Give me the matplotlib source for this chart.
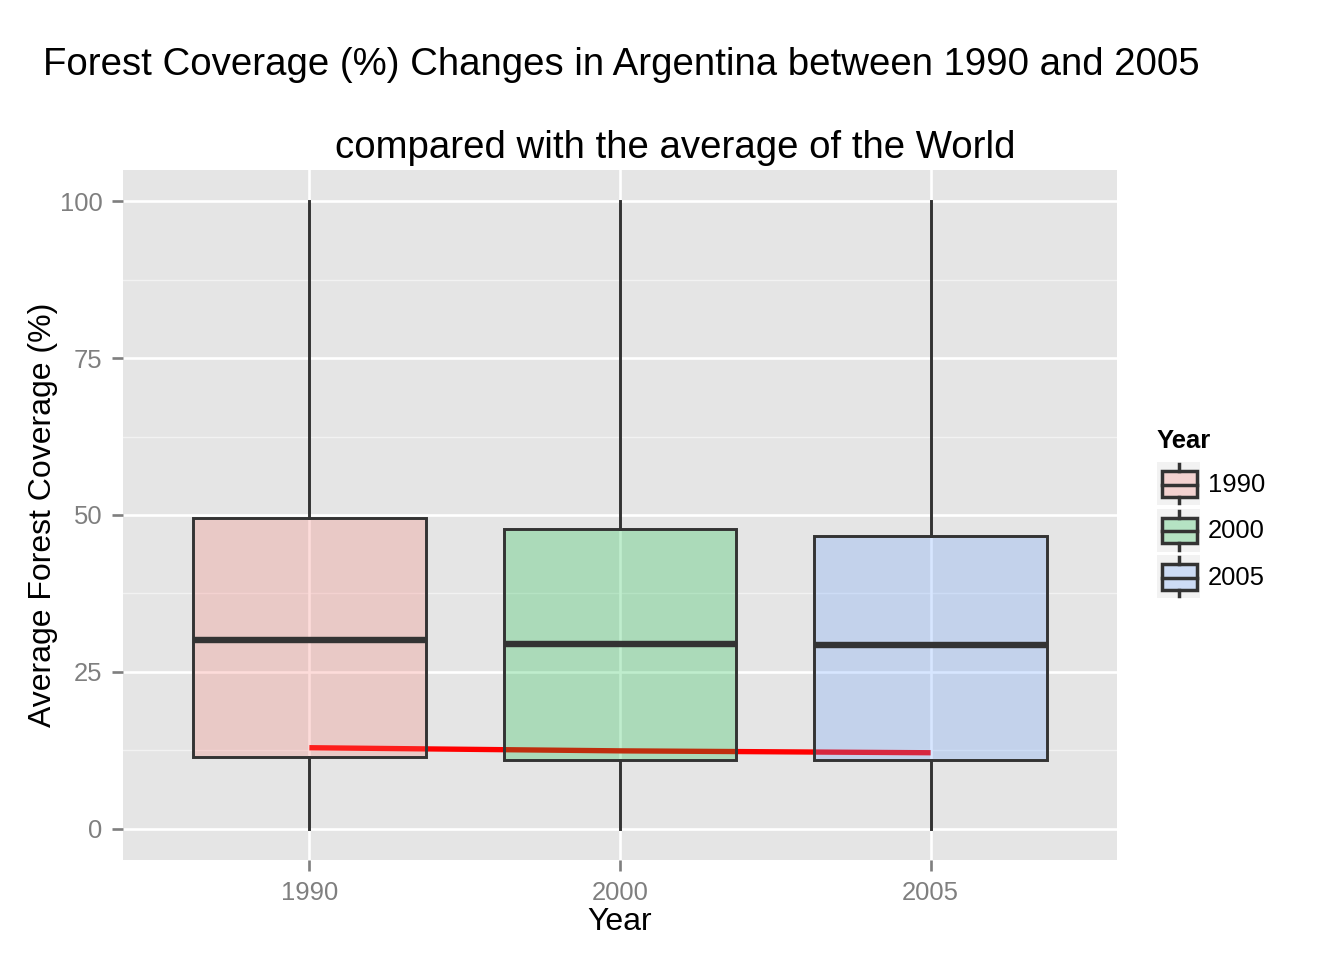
import matplotlib
matplotlib.use("Agg")
import matplotlib.pyplot as plt
import numpy as np
from matplotlib.colors import to_rgba
from matplotlib.patches import Rectangle

plt.rcParams['font.family'] = ['Liberation Sans', 'DejaVu Sans']

# datos
years = ["1990", "2000", "2005"]
whis_low = [0, 0, 0]
q1 = [11.4, 11.0, 11.0]
medians = [30.0, 29.5, 29.3]
q3 = [49.6, 47.8, 46.7]
whis_high = [100, 100, 100]
argentina = [12.9, 12.4, 12.1]   # linea roja (Argentina)

colors = ["#F8766D", "#00BA38", "#619CFF"]
fondo = "#E5E5E5"
edge = "#333333"

fig = plt.figure(figsize=(7, 5), dpi=192)
ax = fig.add_axes([123/1344, 1-860/960, (1117-123)/1344, (860-170)/960])
ax.set_facecolor(fondo)
for s in ax.spines.values():
    s.set_visible(False)

pos = np.arange(1, len(years)+1)
ax.set_xlim(0.4, 3.6)
ax.set_ylim(-5, 105)

# grilla estilo ggplot
for y in [12.5, 37.5, 62.5, 87.5]:
    ax.axhline(y, color="#F2F2F2", lw=0.5, zorder=0.5)
for y in [0, 25, 50, 75, 100]:
    ax.axhline(y, color="white", lw=1.0, zorder=0.6)
for x in pos:
    ax.axvline(x, color="white", lw=1.0, zorder=0.6)

# linea de Argentina, queda debajo de las cajas
ax.plot(pos, argentina, color="red", lw=2.0, zorder=1, solid_capstyle="butt")

stats = [dict(whislo=a, q1=b, med=c, q3=d, whishi=e, fliers=[])
         for a, b, c, d, e in zip(whis_low, q1, medians, q3, whis_high)]
bp = ax.bxp(stats, positions=pos, widths=0.75, patch_artist=True, showcaps=False,
            showfliers=False, zorder=2,
            boxprops=dict(edgecolor=edge, linewidth=1.1),
            whiskerprops=dict(color=edge, linewidth=1.1),
            medianprops=dict(color=edge, linewidth=2.4, solid_capstyle="butt"))
for patch, c in zip(bp["boxes"], colors):
    patch.set_facecolor(to_rgba(c, 0.25))
    patch.set_edgecolor(edge)

ax.set_xticks(pos)
ax.set_xticklabels(years)
ax.set_yticks([0, 25, 50, 75, 100])
ax.tick_params(axis="both", colors="#7F7F7F", labelcolor="#7F7F7F", labelsize=9.6,
               length=4.2, width=1.0, pad=3.5)
ax.set_xlabel("Year", fontsize=12, labelpad=1)
ax.set_ylabel("Average Forest Coverage (%)", fontsize=12, labelpad=0.5)

fig.text(621/1344, 1-65/960, "Forest Coverage (%) Changes in Argentina between 1990 and 2005",
         fontsize=14.4, ha="center", va="center")
fig.text(675.5/1344, 1-148/960, "compared with the average of the World",
         fontsize=14.4, ha="center", va="center")

# leyenda dibujada a mano en coordenadas de pixel
lg = fig.add_axes([0, 0, 1, 1])
lg.set_xlim(0, 1344)
lg.set_ylim(960, 0)
lg.axis("off")
lg.text(1157, 441, "Year", fontsize=9.6, fontweight="bold", va="center", ha="left")
for i, (lab, c) in enumerate(zip(years, colors)):
    top = 462 + i*46.5
    lg.add_patch(Rectangle((1157, top), 43, 43, facecolor="#F2F2F2", edgecolor="none"))
    lg.add_patch(Rectangle((1161.5, top+9), 35, 25.5, facecolor=to_rgba(c, 0.25),
                           edgecolor=edge, lw=1.3))
    lg.plot([1161.5, 1196.5], [top+22.5, top+22.5], color=edge, lw=1.3)
    lg.plot([1179, 1179], [top+2, top+9], color=edge, lw=1.3)
    lg.plot([1179, 1179], [top+34.5, top+41], color=edge, lw=1.3)
    lg.text(1208, top+23, lab, fontsize=9.6, va="center", ha="left")

fig.savefig("out.png", dpi=192)
